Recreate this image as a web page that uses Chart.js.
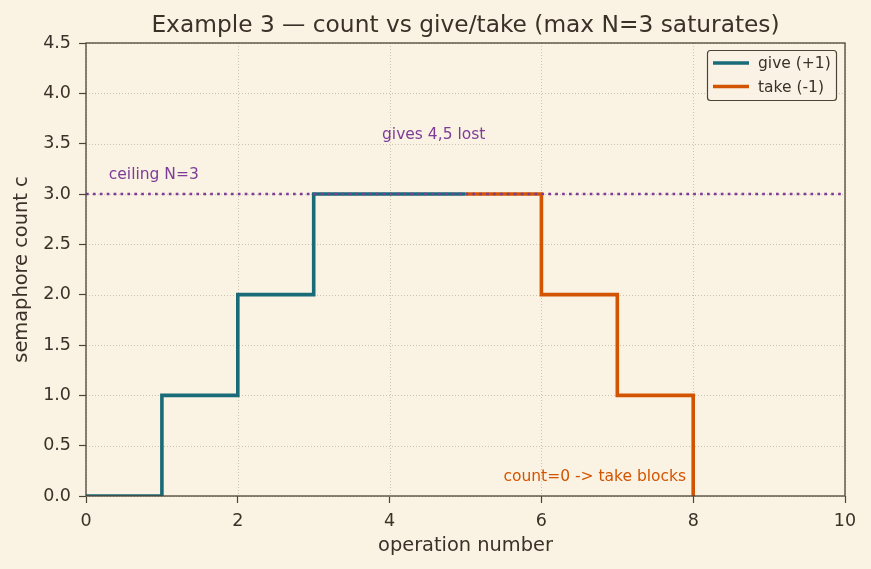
<!DOCTYPE html>
<html><head><meta charset="utf-8">
<script src="https://cdn.jsdelivr.net/npm/chart.js@4.4.1/dist/chart.umd.min.js"></script>
<style>
html,body{margin:0;padding:0;background:#faf2e3;}
#wrap{width:871px;height:569px;}
</style></head>
<body><div id="wrap"><canvas id="c" width="871" height="569"></canvas></div>
<script>
const giveX = [0, 1, 2, 3, 4, 5];
const giveY = [0, 1, 2, 3, 3, 3];
const takeX = [5, 6, 7, 8];
const takeY = [3, 2, 1, 0];
const ceilingN = 3;
const xTicks = [0, 2, 4, 6, 8, 10];
const yTicks = [0, 0.5, 1, 1.5, 2, 2.5, 3, 3.5, 4, 4.5];
const titleText = 'Example 3 \u2014 count vs give/take (max N=3 saturates)';
const annotations = [
  {text: 'ceiling N=3', x: 0.3, y: 3.15, color: '#7d3c98'},
  {text: 'gives 4,5 lost', x: 3.9, y: 3.55, color: '#7d3c98'},
  {text: 'count=0 -> take blocks', x: 5.5, y: 0.15, color: '#d35400'}
];
const legendItems = [
  {label: 'give (+1)', color: '#1a6b78'},
  {label: 'take (-1)', color: '#d35400'}
];

const FONT = "'DejaVu Sans', sans-serif";
const TXT = '#3b3129';
const FRAME = '#4d4338';

const pts = (xs, ys) => xs.map((x, i) => ({x, y: ys[i]}));

const decor = {
  id: 'decor',
  beforeDatasetsDraw(chart) {
    const {ctx, chartArea: a, scales: {x, y}} = chart;
    ctx.save();
    ctx.strokeStyle = '#c4bcad';
    ctx.lineWidth = 0.9;
    ctx.setLineDash([1, 2]);
    xTicks.forEach(v => { const px = Math.round(x.getPixelForValue(v)) + 0.5; ctx.beginPath(); ctx.moveTo(px, a.top); ctx.lineTo(px, a.bottom); ctx.stroke(); });
    yTicks.forEach(v => { const py = Math.round(y.getPixelForValue(v)) + 0.5; ctx.beginPath(); ctx.moveTo(a.left, py); ctx.lineTo(a.right, py); ctx.stroke(); });
    ctx.restore();
  },
  afterDraw(chart) {
    const {ctx, chartArea: a, scales: {x, y}} = chart;
    ctx.save();
    ctx.font = '15.5px ' + FONT;
    ctx.textBaseline = 'alphabetic';
    ctx.textAlign = 'left';
    annotations.forEach(t => { ctx.fillStyle = t.color; ctx.fillText(t.text, x.getPixelForValue(t.x), y.getPixelForValue(t.y)); });
    ctx.strokeStyle = FRAME;
    ctx.lineWidth = 1.3;
    ctx.strokeRect(a.left, a.top, a.right - a.left, a.bottom - a.top);
    ctx.fillStyle = TXT;
    ctx.font = '23.3px ' + FONT;
    ctx.textAlign = 'center';
    ctx.fillText(titleText, (a.left + a.right) / 2, 32);
    const lx = 707, ly = 50, lw = 129, lh = 50;
    ctx.beginPath();
    ctx.roundRect(lx + 0.5, ly + 0.5, lw, lh, 3);
    ctx.fillStyle = 'rgba(250,243,228,0.9)';
    ctx.fill();
    ctx.strokeStyle = FRAME;
    ctx.lineWidth = 1.2;
    ctx.stroke();
    ctx.font = '15.5px ' + FONT;
    ctx.textAlign = 'left';
    ctx.textBaseline = 'middle';
    legendItems.forEach((it, i) => {
      const yy = 63 + i * 23.5;
      ctx.strokeStyle = it.color; ctx.lineWidth = 3.5;
      ctx.beginPath(); ctx.moveTo(713, yy); ctx.lineTo(749, yy); ctx.stroke();
      ctx.fillStyle = TXT;
      ctx.fillText(it.label, 758, yy + 1);
    });
    ctx.restore();
  }
};

new Chart(document.getElementById('c'), {
  type: 'line',
  data: {
    datasets: [
      {label: 'give (+1)', data: pts(giveX, giveY), borderColor: '#1a6b78', borderWidth: 3.6, stepped: 'before', pointRadius: 0, fill: false, order: 3},
      {label: 'take (-1)', data: pts(takeX, takeY), borderColor: '#d35400', borderWidth: 3.6, stepped: 'before', pointRadius: 0, fill: false, order: 2},
      {label: 'ceiling', data: pts([0, 10], [ceilingN, ceilingN]), borderColor: '#7d3c98', borderWidth: 2.7, borderDash: [2.7, 4.2], pointRadius: 0, fill: false, order: 1}
    ]
  },
  options: {
    responsive: false,
    animation: false,
    layout: {padding: {left: 0, right: 26, top: 43, bottom: 11}},
    plugins: {legend: {display: false}, title: {display: false}, tooltip: {enabled: false}},
    scales: {
      x: {
        type: 'linear', min: 0, max: 10,
        afterFit(s) { s.height = 62; },
        afterBuildTicks(s) { s.ticks = xTicks.map(v => ({value: v})); },
        ticks: {color: TXT, font: {family: FONT, size: 17.5}, padding: 8, callback: v => String(v)},
        grid: {drawOnChartArea: false, drawTicks: true, tickLength: 7, tickColor: FRAME, tickWidth: 1.2},
        border: {display: false},
        title: {display: true, text: 'operation number', color: TXT, font: {family: FONT, size: 19.4}, padding: {top: 0, bottom: 0}}
      },
      y: {
        type: 'linear', min: 0, max: 4.5,
        afterFit(s) { s.width = 86; },
        afterBuildTicks(s) { s.ticks = yTicks.map(v => ({value: v})); },
        ticks: {color: TXT, font: {family: FONT, size: 17.5}, padding: 8, callback: v => Number(v).toFixed(1)},
        grid: {drawOnChartArea: false, drawTicks: true, tickLength: 7, tickColor: FRAME, tickWidth: 1.2},
        border: {display: false},
        title: {display: true, text: 'semaphore count c', color: TXT, font: {family: FONT, size: 19.4}, padding: {top: 10, bottom: 0}}
      }
    }
  },
  plugins: [decor]
});
</script></body></html>
